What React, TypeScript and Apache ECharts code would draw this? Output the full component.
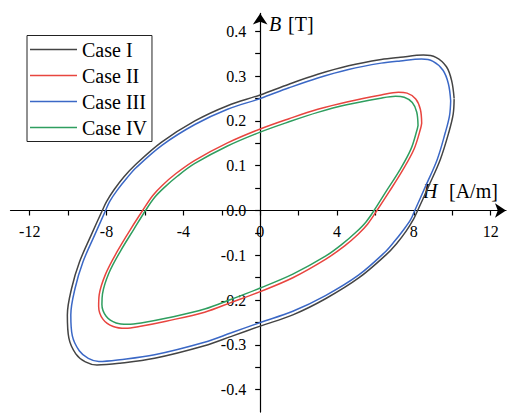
import React, { useEffect, useRef } from "react";
import * as echarts from "echarts";

// Hysteresis loops, B [T] against H [A/m]; each loop is listed as a closed path of [H, B] points.
const caseI: number[][] = [
  [10.1, 0.25], [9.97, 0.29], [9.7, 0.321], [9.15, 0.342], [8.5, 0.347], [7.3, 0.342],
  [6.3, 0.337], [4.6, 0.323], [3.0, 0.304], [1.5, 0.282], [0.0, 0.258], [-1.7, 0.234],
  [-3.4, 0.2], [-5.15, 0.152], [-6.55, 0.1], [-7.1, 0.075], [-7.6, 0.047], [-8.0, 0.02],
  [-8.22, 0.0], [-8.8, -0.055], [-9.4, -0.114], [-9.82, -0.174], [-10.04, -0.233],
  [-9.96, -0.285], [-9.6, -0.32], [-9.1, -0.338], [-8.5, -0.345], [-7.3, -0.341],
  [-5.5, -0.33], [-2.9, -0.302], [-1.5, -0.281], [0.0, -0.258], [1.7, -0.233],
  [3.4, -0.197], [5.15, -0.15], [6.55, -0.099], [7.1, -0.074], [7.6, -0.046], [7.98, -0.02],
  [8.2, 0.0], [8.78, 0.055], [9.38, 0.114], [9.82, 0.174], [10.05, 0.215], [10.1, 0.25],
];

const caseII: number[][] = [
  [8.41, 0.195], [8.34, 0.226], [8.1, 0.249], [7.65, 0.262], [7.2, 0.264], [6.3, 0.258],
  [4.57, 0.243], [3.0, 0.226], [1.5, 0.205], [0.0, 0.182], [-1.7, 0.151], [-3.4, 0.112],
  [-4.4, 0.082], [-5.1, 0.056], [-5.6, 0.033], [-6.12, 0.0], [-6.75, -0.042],
  [-7.45, -0.092], [-8.05, -0.142], [-8.38, -0.188], [-8.41, -0.214], [-8.18, -0.243],
  [-7.65, -0.259], [-7.0, -0.263], [-6.3, -0.259], [-4.9, -0.247], [-2.89, -0.227],
  [-1.5, -0.205], [0.0, -0.181], [1.7, -0.15], [3.4, -0.109], [4.4, -0.079], [5.1, -0.053],
  [5.6, -0.03], [6.08, 0.0], [6.72, 0.042], [7.42, 0.09], [8.02, 0.138], [8.36, 0.184],
  [8.41, 0.195],
];

const caseIII: number[][] = [
  [9.92, 0.245], [9.8, 0.283], [9.52, 0.313], [9.0, 0.333], [8.4, 0.338], [7.3, 0.334],
  [6.3, 0.329], [4.6, 0.315], [3.0, 0.296], [1.5, 0.274], [0.0, 0.25], [-1.7, 0.226],
  [-3.4, 0.192], [-5.1, 0.146], [-6.45, 0.096], [-6.95, 0.072], [-7.45, 0.045],
  [-7.84, 0.02], [-8.05, 0.0], [-8.62, -0.055], [-9.22, -0.114], [-9.64, -0.174],
  [-9.86, -0.233], [-9.78, -0.28], [-9.42, -0.313], [-8.95, -0.33], [-8.4, -0.337],
  [-7.3, -0.333], [-5.5, -0.322], [-2.9, -0.294], [-1.5, -0.273], [0.0, -0.25],
  [1.7, -0.225], [3.4, -0.19], [5.1, -0.145], [6.45, -0.095], [6.95, -0.071], [7.45, -0.044],
  [7.84, -0.02], [8.05, 0.0], [8.62, 0.055], [9.22, 0.114], [9.64, 0.174], [9.86, 0.212],
  [9.92, 0.245],
];

const caseIV: number[][] = [
  [8.22, 0.19], [8.15, 0.22], [7.92, 0.241], [7.5, 0.253], [7.05, 0.255], [6.2, 0.25],
  [4.5, 0.236], [3.0, 0.219], [1.5, 0.198], [0.0, 0.175], [-1.7, 0.144], [-3.4, 0.105],
  [-4.3, 0.077], [-5.0, 0.051], [-5.5, 0.029], [-5.97, 0.0], [-6.58, -0.042],
  [-7.28, -0.091], [-7.88, -0.14], [-8.21, -0.186], [-8.24, -0.21], [-8.02, -0.236],
  [-7.5, -0.251], [-6.9, -0.254], [-6.2, -0.251], [-4.85, -0.24], [-2.89, -0.22],
  [-1.5, -0.198], [0.0, -0.173], [1.7, -0.142], [3.4, -0.102], [4.3, -0.074], [5.0, -0.048],
  [5.5, -0.026], [5.93, 0.0], [6.55, 0.042], [7.25, 0.089], [7.85, 0.137], [8.18, 0.182],
  [8.22, 0.19],
];

const seriesNames = ["Case I", "Case II", "Case III", "Case IV"];
const seriesColors = ["#444444", "#e8453f", "#3b68c6", "#2f9e5f"];

const hTicks = [-12, -10, -8, -6, -4, -2, 0, 2, 4, 6, 8, 10, 12];
const hLabels = [-12, -8, -4, 0, 4, 8, 12];
const bTicks = [-0.4, -0.35, -0.3, -0.25, -0.2, -0.15, -0.1, -0.05, 0, 0.05, 0.1, 0.15, 0.2, 0.25, 0.3, 0.35, 0.4];
const bLabels = [-0.4, -0.3, -0.2, -0.1, 0, 0.1, 0.2, 0.3, 0.4];

const H_MIN = -13;
const H_MAX = 12.8;
const B_MIN = -0.45;
const B_MAX = 0.44;

const FONT = "Liberation Serif";

const WIDTH = 512;
const HEIGHT = 413;
const GRID = { left: 10.5, right: 6, top: 13.4, bottom: 0.9 };

export default function App() {
  const ref = useRef<HTMLDivElement>(null);

  useEffect(() => {
    if (!ref.current) return;
    const chart = echarts.init(ref.current, undefined, { renderer: "svg" });
    const loops = [caseI, caseII, caseIII, caseIV];

    // Both axes pass through the origin: shift them in from the grid edges.
    const plotW = WIDTH - GRID.left - GRID.right;
    const plotH = HEIGHT - GRID.top - GRID.bottom;
    const yAxisShift = ((0 - H_MIN) / (H_MAX - H_MIN)) * plotW;
    const xAxisShift = ((0 - B_MIN) / (B_MAX - B_MIN)) * plotH;

    const lineStyle = { color: "#000", width: 1.2 };

    chart.setOption({
      animation: false,
      backgroundColor: "#fff",
      textStyle: { fontFamily: FONT },
      grid: {
        ...GRID,
        containLabel: false,
        outerBoundsMode: "none",
      },
      xAxis: {
        type: "value",
        min: H_MIN,
        max: H_MAX,
        position: "bottom",
        offset: -xAxisShift,
        splitLine: { show: false },
        axisLine: {
          onZero: false,
          lineStyle,
          symbol: ["none", "arrow"],
          symbolSize: [11, 11],
        },
        axisTick: { show: true, length: 5, customValues: hTicks, lineStyle },
        axisLabel: {
          customValues: hLabels,
          margin: 13,
          color: "#000",
          fontSize: 16,
          fontFamily: FONT,
          formatter: (v: number) => String(v),
        },
      },
      yAxis: {
        type: "value",
        min: B_MIN,
        max: B_MAX,
        position: "left",
        offset: -yAxisShift,
        splitLine: { show: false },
        axisLine: {
          onZero: false,
          lineStyle,
          symbol: ["none", "arrow"],
          symbolSize: [11, 11],
        },
        axisTick: { show: true, length: 5, customValues: bTicks, lineStyle },
        axisLabel: {
          customValues: bLabels,
          margin: 14,
          color: "#000",
          fontSize: 16,
          fontFamily: FONT,
          formatter: (v: number) => (Math.abs(v) < 1e-9 ? "0.0" : v.toFixed(1)),
        },
      },
      legend: {
        orient: "vertical",
        left: 27,
        top: 35.5,
        padding: [4, 5, 4, 3],
        icon: "rect",
        itemWidth: 47,
        itemHeight: 1.5,
        itemGap: 6,
        borderColor: "#222",
        borderWidth: 1,
        backgroundColor: "#fff",
        textStyle: { color: "#000", fontSize: 20, fontFamily: FONT },
        data: seriesNames,
      },
      graphic: [
        {
          type: "text",
          left: 269,
          top: 14,
          style: { text: "B", font: `italic 20px ${FONT}`, fill: "#000" },
        },
        {
          type: "text",
          left: 288,
          top: 14,
          style: { text: "[T]", font: `20px ${FONT}`, fill: "#000" },
        },
        {
          type: "text",
          left: 423,
          top: 181,
          style: { text: "H", font: `italic 20px ${FONT}`, fill: "#000" },
        },
        {
          type: "text",
          left: 449,
          top: 181,
          style: { text: "[A/m]", font: `20px ${FONT}`, fill: "#000" },
        },
      ],
      series: loops.map((data, i) => ({
        name: seriesNames[i],
        type: "line",
        data,
        smooth: 0.35,
        symbol: "none",
        showSymbol: false,
        color: seriesColors[i],
        lineStyle: { color: seriesColors[i], width: 1.5 },
        z: 3,
      })),
    });

    return () => chart.dispose();
  }, []);

  return (
    <div
      ref={ref}
      style={{ position: "fixed", left: 0, top: 0, width: WIDTH, height: HEIGHT }}
    />
  );
}
